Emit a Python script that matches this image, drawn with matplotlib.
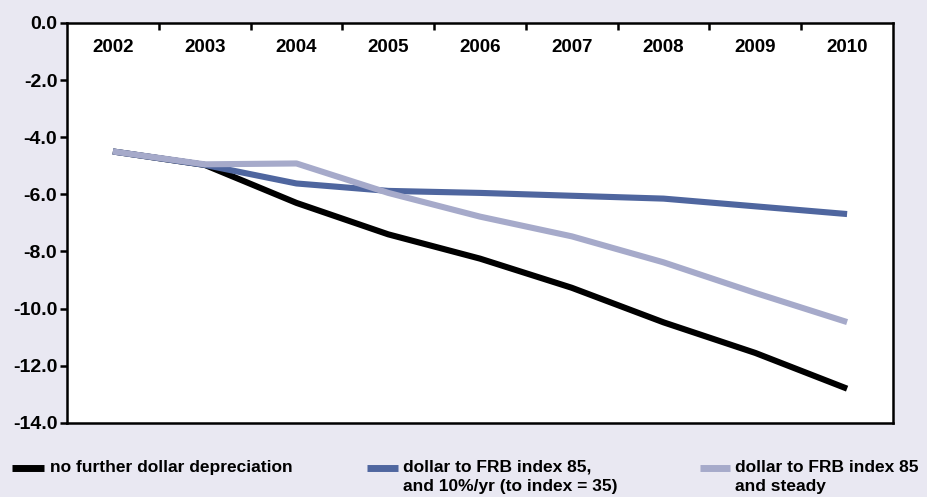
import matplotlib
matplotlib.use("Agg")
import matplotlib.pyplot as plt
from matplotlib.lines import Line2D

years = ["2002", "2003", "2004", "2005", "2006", "2007", "2008", "2009", "2010"]
no_depreciation = [-4.5, -4.97, -6.3, -7.4, -8.25, -9.27, -10.48, -11.55, -12.8]
frb85_10pct = [-4.5, -4.97, -5.62, -5.88, -5.95, -6.05, -6.15, -6.42, -6.69]
frb85_steady = [-4.5, -4.95, -4.92, -5.95, -6.78, -7.47, -8.38, -9.45, -10.47]
series_labels = ["no further dollar depreciation",
                 "dollar to FRB index 85,\nand 10%/yr (to index = 35)",
                 "dollar to FRB index 85\nand steady"]
yticks = [0, -2, -4, -6, -8, -10, -12, -14]

BG = "#e9e8f2"
C_BLACK = "#000000"
C_BLUE = "#4f669f"
C_LIGHT = "#a6aaca"

plt.rcParams['font.family'] = ["Liberation Sans", "DejaVu Sans"]

fig = plt.figure(figsize=(9.27, 4.97), dpi=100, facecolor=BG)
ax = fig.add_axes([0.0723, 0.149, 0.891, 0.805])
ax.set_facecolor("white")

x = list(range(len(years)))
lw = 4.4
ax.plot(x, no_depreciation, color=C_BLACK, lw=lw, solid_capstyle="butt", zorder=3)
ax.plot(x, frb85_10pct, color=C_BLUE, lw=lw, solid_capstyle="butt", zorder=4)
ax.plot(x, frb85_steady, color=C_LIGHT, lw=lw, solid_capstyle="butt", zorder=5)

ax.set_xlim(-0.5, len(years) - 0.5)
ax.set_ylim(-14, 0)

for s in ax.spines.values():
    s.set_linewidth(1.8)
    s.set_color("black")

ax.set_yticks(yticks)
ax.set_yticklabels([f"{v:.1f}" for v in yticks], fontsize=14, fontweight="bold")
ax.tick_params(axis="y", direction="out", length=5, width=1.8, pad=2)

ax.xaxis.set_ticks_position("top")
ax.set_xticks(x)
ax.set_xticklabels(years, fontsize=13.5, fontweight="bold")
ax.tick_params(axis="x", which="major", length=0, pad=-24, labeltop=True, labelbottom=False)
ax.set_xticks([i + 0.5 for i in x[:-1]], minor=True)
ax.tick_params(axis="x", which="minor", direction="in", length=5, width=1.8, top=True, bottom=False)

# legend (manual, below plot)
H = 497.0
W = 927.0
legend_items = [(12, 44, 50), (367, 398, 403), (700, 730, 735)]
colors = [C_BLACK, C_BLUE, C_LIGHT]
ytxt = 1 - 460 / H
yline = 1 - 468 / H
for (x0, x1, xt), c, lab in zip(legend_items, colors, series_labels):
    fig.add_artist(Line2D([x0 / W, x1 / W], [yline, yline], color=c, lw=5,
                          transform=fig.transFigure, solid_capstyle="butt"))
    fig.text(xt / W, ytxt, lab, fontsize=12.5, fontweight="bold",
             va="top", ha="left", linespacing=1.3)

fig.savefig("out.png", dpi=100, facecolor=BG)
